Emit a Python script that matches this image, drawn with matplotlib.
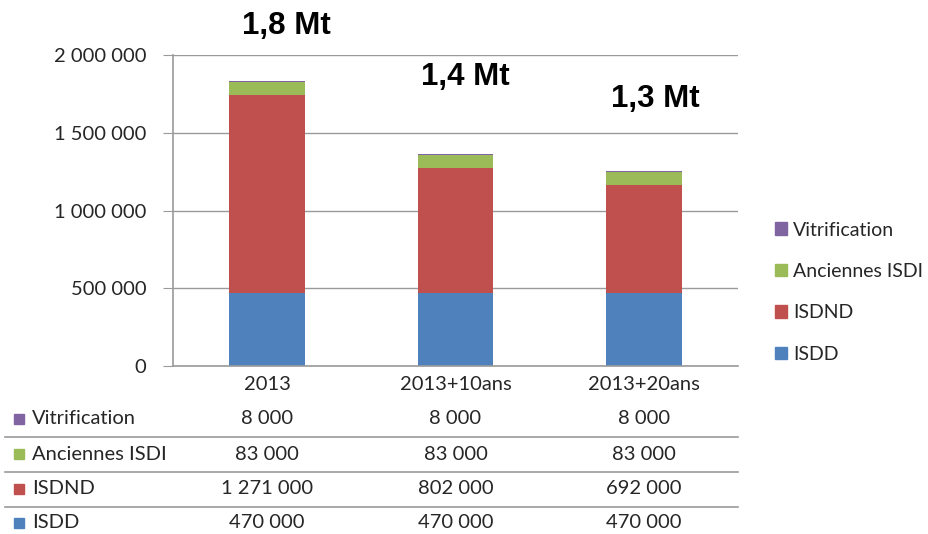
import matplotlib.pyplot as plt
from matplotlib.patches import Patch
from matplotlib import transforms
import numpy as np

plt.rcParams['font.family'] = ['Lato', 'DejaVu Sans']

# scénarios et tonnages par filière (t)
scenarios = ['2013', '2013+10ans', '2013+20ans']
series = ['ISDD', 'ISDND', 'Anciennes ISDI', 'Vitrification']
isdd = [470000, 470000, 470000]
isdnd = [1271000, 802000, 692000]
anciennes_isdi = [83000, 83000, 83000]
vitrification = [8000, 8000, 8000]
totaux = ['1,8 Mt', '1,4 Mt', '1,3 Mt']

couleurs = {'ISDD': '#4F81BD', 'ISDND': '#C0504D',
            'Anciennes ISDI': '#9BBB59', 'Vitrification': '#8064A2'}
valeurs = {'ISDD': isdd, 'ISDND': isdnd,
           'Anciennes ISDI': anciennes_isdi, 'Vitrification': vitrification}

W, H = 929, 534
FS = 14.5
fig = plt.figure(figsize=(W / 100, H / 100), dpi=100)
ax = fig.add_axes([173 / W, 1 - 366 / H, (738 - 173) / W, (366 - 55) / H])

x = np.arange(len(scenarios))
bas = np.zeros(len(scenarios))
for s in series:
    ax.bar(x, valeurs[s], width=0.4, bottom=bas, color=couleurs[s], zorder=2)
    bas += np.array(valeurs[s])

ax.set_xlim(-0.5, len(scenarios) - 0.5)
ax.set_ylim(0, 2000000)
ax.set_yticks(range(0, 2000001, 500000))
ax.set_yticklabels([f'{v:,}'.replace(',', ' ') for v in range(0, 2000001, 500000)])
ax.set_xticks(x)
ax.set_xticklabels(scenarios)
ax.yaxis.grid(True, color='#9a9a9a', linewidth=1.0, zorder=0)
ax.tick_params(axis='y', length=7, color='#9a9a9a', pad=12, labelsize=FS,
               labelcolor='#262626')
ax.tick_params(axis='x', length=0, pad=7, labelsize=FS, labelcolor='#262626')
for sp in ['top', 'right']:
    ax.spines[sp].set_visible(False)
for sp in ['left', 'bottom']:
    ax.spines[sp].set_color('#9a9a9a')
    ax.spines[sp].set_linewidth(1.2)

# totaux au-dessus des barres
pos_totaux = [(0.1, 2186000), (1.05, 1858000), (2.06, 1717000)]
for t, (px, py) in zip(totaux, pos_totaux):
    ax.text(px, py, t, ha='center', va='center', fontsize=22.5,
            fontweight='bold', family='Liberation Sans', color='#000000',
            clip_on=False)

# légende
poignees = [Patch(color=couleurs[s]) for s in series[::-1]]
fig.legend(poignees, series[::-1], loc='upper left',
           bbox_to_anchor=(758 / W, 1 - 204 / H), frameon=False,
           fontsize=14, labelspacing=1.26, handlelength=0.6,
           handleheight=0.6, handletextpad=0.3, labelcolor='#262626')

# tableau de données sous le graphique
trans = transforms.blended_transform_factory(ax.transData, fig.transFigure)
lignes_y = [419, 454, 489, 523]
for s, yp in zip(series[::-1], lignes_y):
    fig.patches.append(plt.Rectangle((14 / W, 1 - (yp + 5) / H), 10 / W, 10 / H,
                                     transform=fig.transFigure,
                                     color=couleurs[s]))
    fig.text(32 / W, 1 - yp / H, s, ha='left', va='center', fontsize=FS,
             color='#262626')
    for i, v in enumerate(valeurs[s]):
        fig.text(x[i], 1 - yp / H, f'{v:,}'.replace(',', ' '), transform=trans,
                 ha='center', va='center', fontsize=FS, color='#262626')
for yl in [437, 472, 507]:
    fig.add_artist(plt.Line2D([5 / W, 738 / W], [1 - yl / H, 1 - yl / H],
                              transform=fig.transFigure, color='#9a9a9a',
                              linewidth=1.2))

fig.savefig('out.png', dpi=100)
